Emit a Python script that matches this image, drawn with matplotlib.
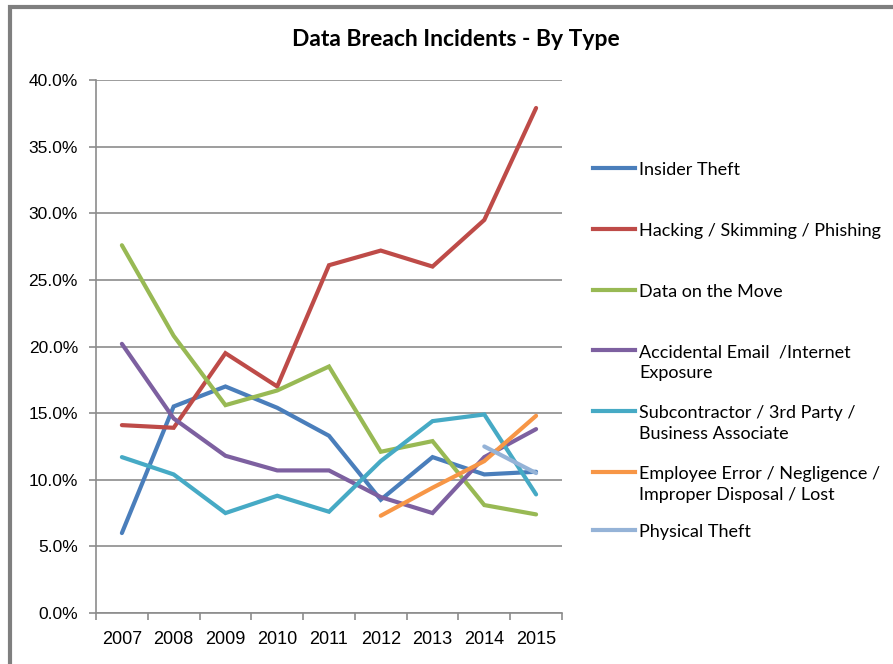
import numpy as np
import matplotlib
matplotlib.use("Agg")
import matplotlib.pyplot as plt
from matplotlib.lines import Line2D
from matplotlib.patches import Rectangle

# data (percent of incidents)
years = ["2007", "2008", "2009", "2010", "2011", "2012", "2013", "2014", "2015"]
insider = [6.0, 15.5, 17.0, 15.4, 13.3, 8.5, 11.7, 10.4, 10.6]
hacking = [14.1, 13.9, 19.5, 17.0, 26.1, 27.2, 26.0, 29.5, 37.9]
on_move = [27.6, 20.8, 15.6, 16.7, 18.5, 12.1, 12.9, 8.1, 7.4]
accidental = [20.2, 14.6, 11.8, 10.7, 10.7, 8.7, 7.5, 11.7, 13.8]
subcontractor = [11.7, 10.4, 7.5, 8.8, 7.6, 11.4, 14.4, 14.9, 8.9]
employee = [np.nan, np.nan, np.nan, np.nan, np.nan, 7.3, 9.4, 11.4, 14.8]
physical = [np.nan, np.nan, np.nan, np.nan, np.nan, np.nan, np.nan, 12.5, 10.5]

labels = ["Insider Theft",
          "Hacking / Skimming / Phishing",
          "Data on the Move",
          "Accidental Email  /Internet\nExposure",
          "Subcontractor / 3rd Party /\nBusiness Associate",
          "Employee Error / Negligence /\nImproper Disposal / Lost",
          "Physical Theft"]
series = [insider, hacking, on_move, accidental, subcontractor, employee, physical]
colors = ["#4A7EBB", "#BE4B48", "#98B954", "#7D60A0", "#46AAC5", "#F79646", "#95B3D7"]

fig = plt.figure(figsize=(8.93, 6.64), dpi=100)
ax = fig.add_axes([0.1075, 0.0768, 0.5218, 0.8027])

x = np.arange(len(years))
for vals, c in zip(series, colors):
    ax.plot(x, np.array(vals) / 100, color=c, lw=3, solid_capstyle="round", solid_joinstyle="miter")

ax.set_xlim(-0.5, len(years) - 0.5)
ax.set_ylim(0, 0.40)
ax.set_yticks(np.arange(0, 0.41, 0.05))
ax.set_yticklabels([f"{v * 100:.1f}%" for v in np.arange(0, 0.41, 0.05)],
                   family="Liberation Sans", fontsize=12.5)
ax.yaxis.grid(True, color="#8C8C8C", lw=1.2)
ax.set_axisbelow(True)

ax.set_xticks(x)
ax.set_xticklabels(years, family="Liberation Sans", fontsize=13)
ax.set_xticks(np.arange(-0.5, len(years)), minor=True)
ax.tick_params(axis="x", which="major", length=0, pad=13)
ax.tick_params(axis="x", which="minor", length=5, color="#8C8C8C", width=1.2)
ax.tick_params(axis="y", length=5, color="#8C8C8C", width=1.2, pad=8)

for s in ["top", "right"]:
    ax.spines[s].set_visible(False)
for s in ["left", "bottom"]:
    ax.spines[s].set_color("#8C8C8C")
    ax.spines[s].set_linewidth(1.2)

fig.text(0.511, 0.941, "Data Breach Incidents - By Type", ha="center", va="center",
         family="Lato", fontweight="bold", fontsize=16.5)

# legend drawn by hand so two-line entries hang from the first line
leg_y = [168, 229, 290, 350, 411, 472, 530]
for lab, c, yp in zip(labels, colors, leg_y):
    fy = 1 - yp / 664
    fig.add_artist(Line2D([593 / 893, 635 / 893], [fy, fy], color=c, lw=3,
                          transform=fig.transFigure))
    fig.text(639 / 893, fy + 6 / 664, lab, ha="left", va="top", family="Lato",
             fontsize=13, linespacing=1.4)

# gray frame of the chart area (left and top edges)
fig.add_artist(Rectangle((0.0112, -0.05), 1.1, 1.0395, transform=fig.transFigure,
                         fill=False, edgecolor="#7F7F7F", lw=3))

fig.savefig("out.png", dpi=100)
